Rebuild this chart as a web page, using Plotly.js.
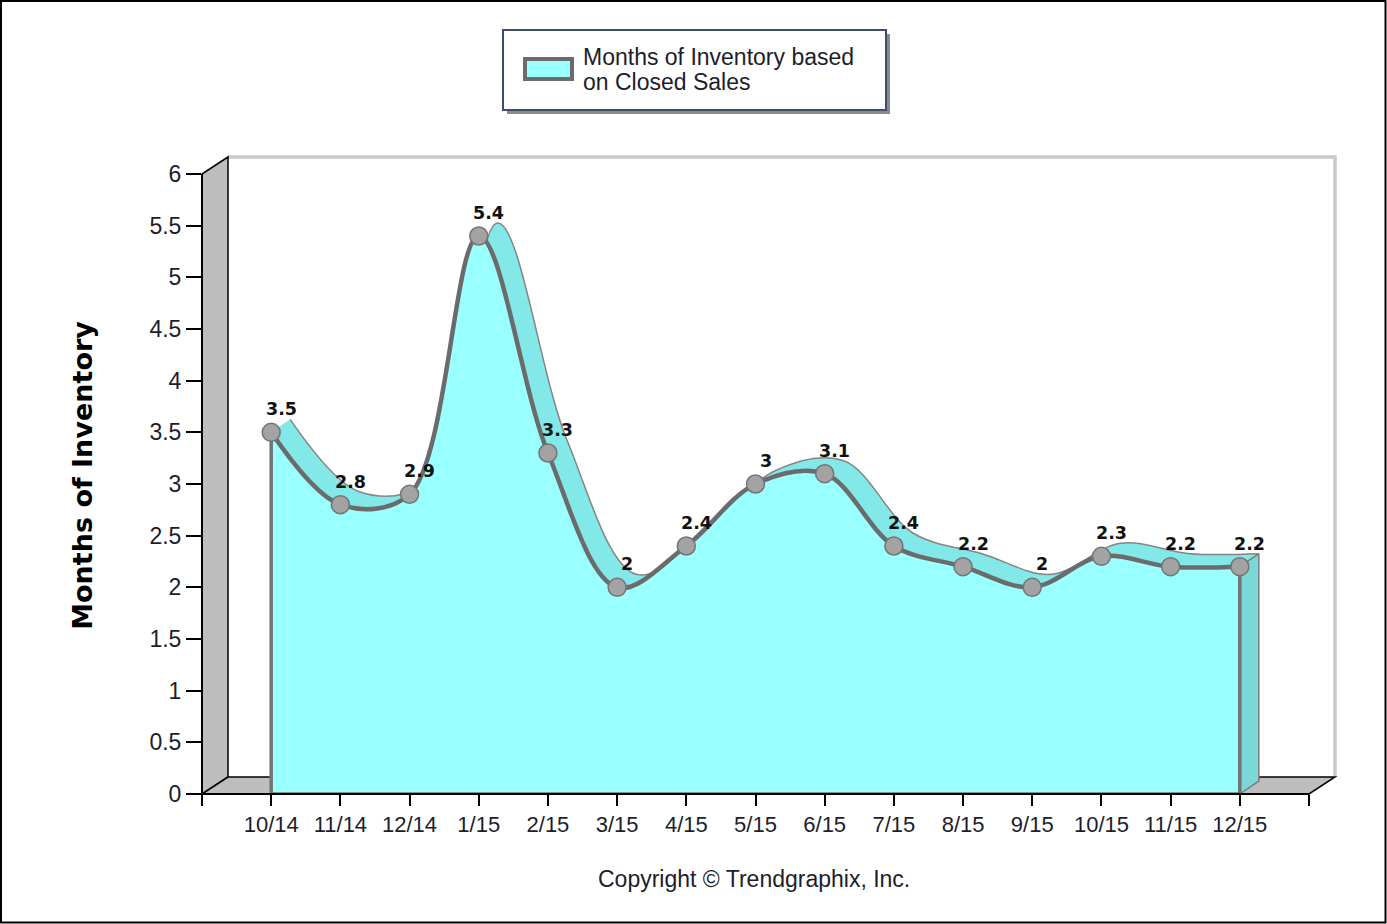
<!DOCTYPE html>
<html><head><meta charset="utf-8">
<script src="https://cdn.plot.ly/plotly-3.0.1.min.js"></script>
<style>html,body{margin:0;padding:0;background:#fff}#chart{width:1387px;height:924px}</style>
</head><body><div id="chart"></div>
<script>
// ---- data ----
const categories = ['10/14','11/14','12/14','1/15','2/15','3/15','4/15','5/15','6/15','7/15','8/15','9/15','10/15','11/15','12/15'];
const values = [3.5, 2.8, 2.9, 5.4, 3.3, 2.0, 2.4, 3.0, 3.1, 2.4, 2.2, 2.0, 2.3, 2.2, 2.2];
const valueLabels = ['3.5','2.8','2.9','5.4','3.3','2','2.4','3','3.1','2.4','2.2','2','2.3','2.2','2.2'];
const yTickVals = [0, 0.5, 1, 1.5, 2, 2.5, 3, 3.5, 4, 4.5, 5, 5.5, 6];
const yTickText = ['0','0.5','1','1.5','2','2.5','3','3.5','4','4.5','5','5.5','6'];
const seriesLine1 = 'Months of Inventory based';
const seriesLine2 = 'on Closed Sales';
const yTitle = 'Months of Inventory';
const copyright = 'Copyright \u00A9 Trendgraphix, Inc.';

// ---- geometry / style ----
const W = 1387, H = 924;
const L = 202, T = 157;
const frontW = 1107, frontH = 620, yMaxTick = 6;
const wallDX = 26, wallDY = 17;   // pseudo-3D wall depth (px)
const serDX = 19, serDY = 13;     // series depth (px)
const plotW = frontW + wallDX, plotH = frontH + wallDY;
const R = W - L - plotW, B = H - T - plotH;
const n = categories.length;
const xs = categories.map((c, i) => i);
const xMin = -1, xFront = n;
const ppx = frontW / (xFront - xMin), ppy = frontH / yMaxTick;
const xMax = xFront + wallDX / ppx, yMax = yMaxTick + wallDY / ppy;
const wdx = wallDX / ppx, wdy = wallDY / ppy, sdx = serDX / ppx, sdy = serDY / ppy;

const px = x => (x - xMin) / (xMax - xMin);      // data x -> paper
const py = y => y / yMax;                          // data y -> paper
const PX = p => (p - L) / plotW;                   // pixel -> paper
const PY = p => (T + plotH - p) / plotH;

const last = n - 1, vLast = values[last], v0 = values[0];

const cyan = '#99FFFF', ribbon = '#82E8E8', endFace = '#7AD8D8', edge = '#6B6B6B';

const traces = [
  { // baseline for the ribbon fill
    x: [0, 0, last, last + sdx], y: [v0, 0, 0, sdy],
    mode: 'lines', line: { width: 0, shape: 'linear' }, hoverinfo: 'skip', showlegend: false
  },
  { // back (ribbon) curve
    x: xs.map(x => x + sdx), y: values.map(v => v + sdy),
    mode: 'lines', line: { shape: 'spline', smoothing: 1, color: '#858585', width: 1.5 },
    fill: 'tonexty', fillcolor: ribbon, hoverinfo: 'skip', showlegend: false
  },
  { // right end face
    x: [last, last + sdx, last + sdx, last, last], y: [vLast, vLast + sdy, sdy, 0, vLast],
    mode: 'lines', line: { color: '#7a7a7a', width: 1.5, shape: 'linear' },
    fill: 'toself', fillcolor: endFace, hoverinfo: 'skip', showlegend: false
  },
  { // front face
    x: xs, y: values, name: seriesLine1 + ' ' + seriesLine2,
    mode: 'lines', line: { shape: 'spline', smoothing: 1, color: edge, width: 4.5 },
    fill: 'tozeroy', fillcolor: cyan, showlegend: false
  },
  { // front face edges
    x: [0, 0, last, last], y: [v0, 0, 0, vLast],
    mode: 'lines', line: { color: '#737373', width: 3.5, shape: 'linear' },
    hoverinfo: 'skip', showlegend: false
  },
  { // markers
    x: xs, y: values, mode: 'markers',
    marker: { size: 18, color: '#A3A3A3', line: { color: '#747474', width: 1.5 } },
    showlegend: false
  }
];

const shapes = [
  // outer image border
  { type: 'rect', xref: 'paper', yref: 'paper', x0: PX(1), x1: PX(W - 1.5), y0: PY(1), y1: PY(H - 1.5), line: { color: '#000', width: 2 }, layer: 'below' },
  // back wall outline (light gray)
  { type: 'path', xref: 'paper', yref: 'paper', layer: 'below',
    path: `M ${px(xMin + wdx)} ${py(yMax)} L ${px(xMax)} ${py(yMax)} L ${px(xMax)} ${py(wdy)}`,
    line: { color: '#C9C9C9', width: 3.5 } },
  // left wall
  { type: 'path', xref: 'paper', yref: 'paper', layer: 'below',
    path: `M ${px(xMin)} ${py(0)} L ${px(xMin + wdx)} ${py(wdy)} L ${px(xMin + wdx)} ${py(yMax)} L ${px(xMin)} ${py(yMaxTick)} Z`,
    fillcolor: '#BEBEBE', line: { color: '#000', width: 1.5 } },
  // floor
  { type: 'path', xref: 'paper', yref: 'paper', layer: 'below',
    path: `M ${px(xMin)} ${py(0)} L ${px(xFront)} ${py(0)} L ${px(xMax)} ${py(wdy)} L ${px(xMin + wdx)} ${py(wdy)} Z`,
    fillcolor: '#BEBEBE', line: { color: '#000', width: 1.5 } },
  // axis lines
  { type: 'line', xref: 'paper', yref: 'paper', layer: 'above', x0: px(xMin), x1: px(xFront), y0: py(0), y1: py(0), line: { color: '#000', width: 2 } },
  { type: 'line', xref: 'paper', yref: 'paper', layer: 'above', x0: px(xMin), x1: px(xMin), y0: py(0), y1: py(yMaxTick), line: { color: '#000', width: 2 } },
  // legend shadow, box and swatch
  { type: 'rect', xref: 'paper', yref: 'paper', x0: PX(507), x1: PX(890), y0: PY(114), y1: PY(34), fillcolor: '#8A8A8A', line: { width: 0 }, layer: 'above' },
  { type: 'rect', xref: 'paper', yref: 'paper', x0: PX(503), x1: PX(886), y0: PY(110), y1: PY(30), fillcolor: '#FFFFFF', line: { color: '#3F4D6B', width: 2 }, layer: 'above' },
  { type: 'rect', xref: 'paper', yref: 'paper', x0: PX(525), x1: PX(572), y0: PY(79), y1: PY(59), fillcolor: cyan, line: { color: '#6B6B6B', width: 4 }, layer: 'above' }
];

const annotations = values.map((v, i) => ({
  x: i, y: v, xref: 'x', yref: 'y', text: valueLabels[i], showarrow: false,
  xshift: 10, yshift: 23, font: { family: 'DejaVu Sans', size: 17.5, color: '#111', weight: 'bold' }
}));
annotations.push(
  { xref: 'paper', yref: 'paper', x: PX(581), y: PY(57), xanchor: 'left', yanchor: 'middle', showarrow: false,
    text: seriesLine1, font: { family: 'Liberation Sans, Arial', size: 23, color: '#1d1d2b' } },
  { xref: 'paper', yref: 'paper', x: PX(581), y: PY(82), xanchor: 'left', yanchor: 'middle', showarrow: false,
    text: seriesLine2, font: { family: 'Liberation Sans, Arial', size: 23, color: '#1d1d2b' } },
  { xref: 'paper', yref: 'paper', x: PX(754), y: PY(879), xanchor: 'center', yanchor: 'middle', showarrow: false,
    text: copyright, font: { family: 'Liberation Sans, Arial', size: 23, color: '#1d1d2b' } }
);

const layout = {
  width: W, height: H,
  margin: { l: L, r: R, t: T, b: B, pad: 0 },
  paper_bgcolor: '#FFFFFF', plot_bgcolor: 'rgba(0,0,0,0)',
  showlegend: false,
  xaxis: {
    range: [xMin, xMax], tickmode: 'array',
    tickvals: [xMin].concat(xs, [xFront]), ticktext: [''].concat(categories, ['']),
    ticks: 'outside', ticklen: 11, tickwidth: 2, tickcolor: '#000',
    showgrid: false, zeroline: false, showline: false, fixedrange: true,
    tickfont: { family: 'Liberation Sans, Arial', size: 22, color: '#1d1d2b' }
  },
  yaxis: {
    range: [0, yMax], tickmode: 'array', tickvals: yTickVals, ticktext: yTickText,
    ticks: 'outside', ticklen: 15, tickwidth: 2, tickcolor: '#000',
    showgrid: false, zeroline: false, showline: false, fixedrange: true,
    tickfont: { family: 'Liberation Sans, Arial', size: 23, color: '#1d1d2b' },
    title: { text: yTitle, standoff: 48, font: { family: 'DejaVu Sans', size: 27, color: '#000', weight: 'bold' } }
  },
  shapes: shapes,
  annotations: annotations
};

Plotly.newPlot('chart', traces, layout, { displayModeBar: false, staticPlot: true });
</script>
</body></html>
